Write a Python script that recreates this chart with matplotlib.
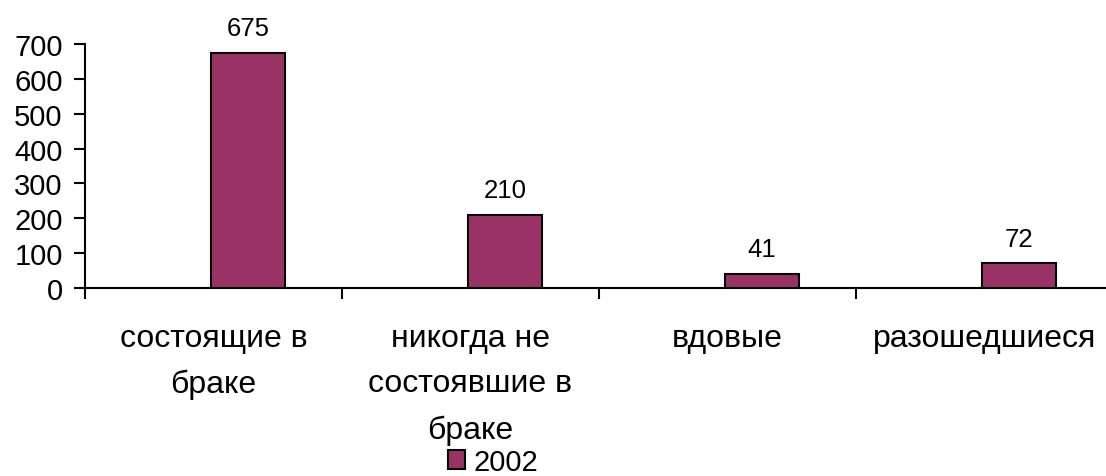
import matplotlib

matplotlib.use("Agg")
import matplotlib.pyplot as plt
import numpy as np
from matplotlib.patches import Patch

plt.rcParams["font.family"] = ["Liberation Sans", "DejaVu Sans"]

categories = ["состоящие в\nбраке", "никогда не\nсостоявшие в\nбраке", "вдовые", "разошедшиеся"]
values_2002 = [675, 210, 41, 72]
series_name = "2002"
yticks = [0, 100, 200, 300, 400, 500, 600, 700]

BAR_COLOR = "#993366"

fig = plt.figure(figsize=(11.06, 4.77), dpi=100)
ax = fig.add_axes([85 / 1106, 188 / 477, 1028 / 1106, 244 / 477])

n = len(categories)
x = np.arange(n)
# the second slot of a two-series cluster; first series is empty
ax.bar(x + 0.49, values_2002, width=0.29, align="edge", color=BAR_COLOR,
       edgecolor="black", linewidth=1.5, zorder=3)
for xi, v in zip(x, values_2002):
    ax.annotate(str(v), (xi + 0.635, v), xytext=(0, 12.5), textcoords="offset points",
                ha="center", va="baseline", fontsize=18.5)

ax.set_xlim(0, n)
ax.set_ylim(0, 700)
ax.set_yticks(yticks)
ax.tick_params(axis="y", direction="out", length=8, width=1.5, labelsize=21, pad=8)

ax.set_xticks(np.arange(n + 1))
ax.set_xticklabels([])
ax.set_xticks(x + 0.5, minor=True)
ax.set_xticklabels(categories, minor=True, fontsize=23, linespacing=1.68)
ax.tick_params(axis="x", which="major", direction="out", length=8, width=1.5)
ax.tick_params(axis="x", which="minor", length=0, pad=25)

for side in ("top", "right"):
    ax.spines[side].set_visible(False)
for side in ("left", "bottom"):
    ax.spines[side].set_linewidth(1.5)

handle = Patch(facecolor=BAR_COLOR, edgecolor="black", linewidth=1.5)
fig.legend([handle], [series_name], loc="center", bbox_to_anchor=(493 / 1106, 1 - 463 / 477),
           frameon=False, fontsize=21, handlelength=0.6, handleheight=0.6,
           handletextpad=0.3, borderpad=0)

fig.savefig("out.png", dpi=100)
